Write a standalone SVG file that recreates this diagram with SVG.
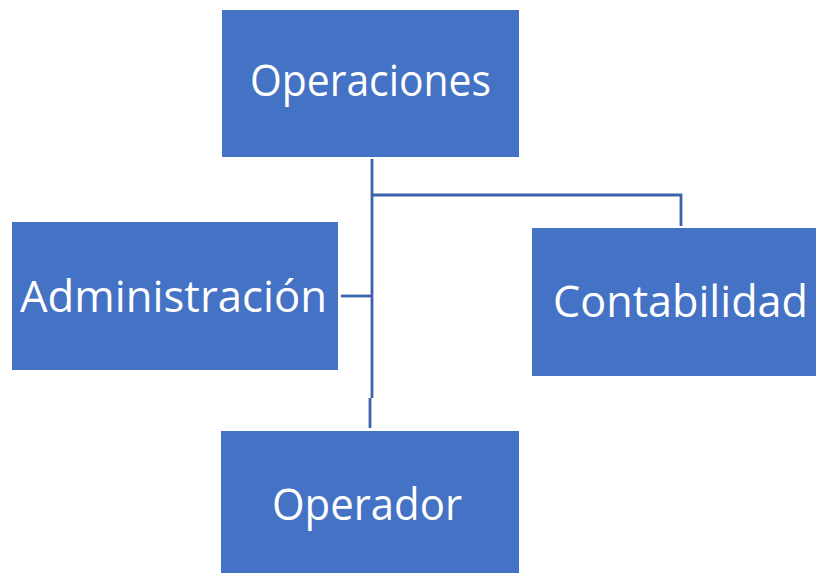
<svg xmlns="http://www.w3.org/2000/svg" width="816" height="573" viewBox="0 0 816 573">
<style>
.box{fill:#4472C4;}
.lbl{fill:#FFFFFF;font-family:"Open Sans","Liberation Sans",sans-serif;font-size:43px;}
.con{fill:none;stroke:#3B62AD;stroke-width:2.8;}
</style>
<rect width="816" height="573" fill="#FFFFFF"/>
<g id="connectors">
<polyline class="con" points="372,159 372,398"/>
<polyline class="con" points="370,398 370,428"/>
<polyline class="con" points="372,195 681,195 681,226"/>
<polyline class="con" points="341,296 372,296"/>
</g>
<g id="operaciones">
<rect class="box" x="222" y="10" width="297" height="147"/>
<text class="lbl" x="250" y="96" textLength="241" lengthAdjust="spacingAndGlyphs">Operaciones</text>
</g>
<g id="administracion">
<rect class="box" x="12" y="222" width="326" height="148"/>
<text class="lbl" x="20" y="312" textLength="307" lengthAdjust="spacingAndGlyphs">Administración</text>
</g>
<g id="contabilidad">
<rect class="box" x="532" y="228" width="284" height="148"/>
<text class="lbl" x="553" y="317" textLength="255" lengthAdjust="spacingAndGlyphs">Contabilidad</text>
</g>
<g id="operador">
<rect class="box" x="221" y="431" width="298" height="142"/>
<text class="lbl" x="272" y="520" textLength="190" lengthAdjust="spacingAndGlyphs">Operador</text>
</g>
</svg>
